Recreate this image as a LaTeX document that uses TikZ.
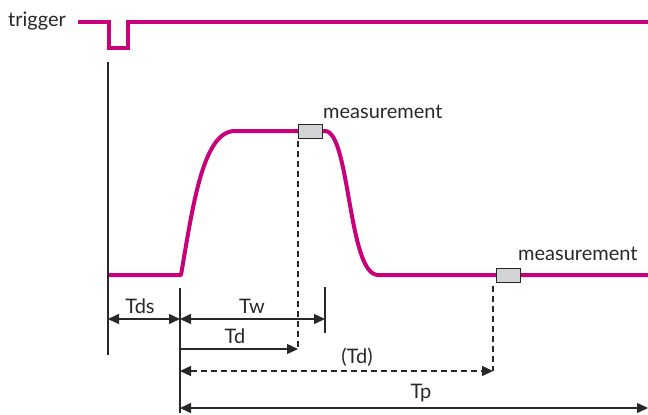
\documentclass[tikz,border=0pt]{standalone}
\usepackage{fontspec}
\setmainfont{Lato}
\usetikzlibrary{arrows.meta}
\definecolor{pulse}{RGB}{200,0,122}
\definecolor{boxgray}{RGB}{210,211,213}
\definecolor{txt}{RGB}{40,40,40}
\begin{document}
\begin{tikzpicture}[x=1pt,y=-1pt,
  >={Triangle[length=11pt,width=10pt]},
  sig/.style={draw=pulse,line width=4pt,line join=miter},
  guide/.style={draw=txt,line width=1.3pt},
  dashguide/.style={guide,dash pattern=on 6pt off 4pt},
  lbl/.style={font=\fontsize{20}{24}\selectfont,text=txt,inner sep=0pt},
  meas/.style={draw=txt,fill=boxgray,line width=0.8pt,minimum width=24pt,minimum height=14pt,inner sep=0pt}
]
\useasboundingbox (0,0) rectangle (648,415);

% trigger signal
\node[lbl,anchor=base west] (trig) at (8,26) {trigger};
\draw[sig] (78,22) -- (108.5,22) -- (108.5,48) -- (128,48) -- (128,22) -- (648,22);

% pulse signal
\draw[sig,line join=round] (108,275) -- (181,275)
  .. controls (193,205) and (203,131) .. (235,131) -- (325,131)
  .. controls (350,131) and (348,275) .. (378,275) -- (648,275);

% measurement boxes
\node[meas] (m1) at (310.5,131) {};
\node[meas] (m2) at (508,275.5) {};
\node[lbl,anchor=base west] (m1t) at (323,118) {measurement};
\node[lbl,anchor=base west] (m2t) at (518,260) {measurement};

% reference lines
\coordinate (v0t) at (108,62);
\coordinate (v0b) at (108,355);
\coordinate (v1t) at (180,288);
\coordinate (v1b) at (180,413);
\coordinate (v2t) at (325,287);
\coordinate (v2b) at (325,333);
\coordinate (d1t) at (298,141);
\coordinate (d1b) at (298,350);
\coordinate (d2t) at (493,286);
\coordinate (d2b) at (493,371);
\draw[guide] (v0t) -- (v0b);
\draw[guide] (v1t) -- (v1b);
\draw[guide] (v2t) -- (v2b);
\draw[dashguide] (d1t) -- (d1b);
\draw[dashguide] (d2t) -- (d2b);

% dimension arrows
\coordinate (a0) at (108,319);
\coordinate (a1) at (180,319);
\coordinate (a2) at (325,319);
\coordinate (b1) at (180,349);
\coordinate (b2) at (298,349);
\coordinate (c1) at (180,371);
\coordinate (c2) at (493,371);
\coordinate (e1) at (180,408);
\coordinate (e2) at (648,408);
\draw[guide,<->] (a0) -- (a1);
\draw[guide,<->] (a1) -- (a2);
\draw[guide,->] (b1) -- (b2);
\draw[dashguide,<->] (c1) -- (c2);
\draw[guide,<->] (e1) -- (e2);

% labels
\node[lbl,anchor=base] (tds) at (140,313) {Tds};
\node[lbl,anchor=base] (tw) at (252,313) {Tw};
\node[lbl,anchor=base] (td) at (235,343) {Td};
\node[lbl,anchor=base] (tdp) at (357,363) {(Td)};
\node[lbl,anchor=base] (tp) at (421,398) {Tp};
\end{tikzpicture}
\end{document}
